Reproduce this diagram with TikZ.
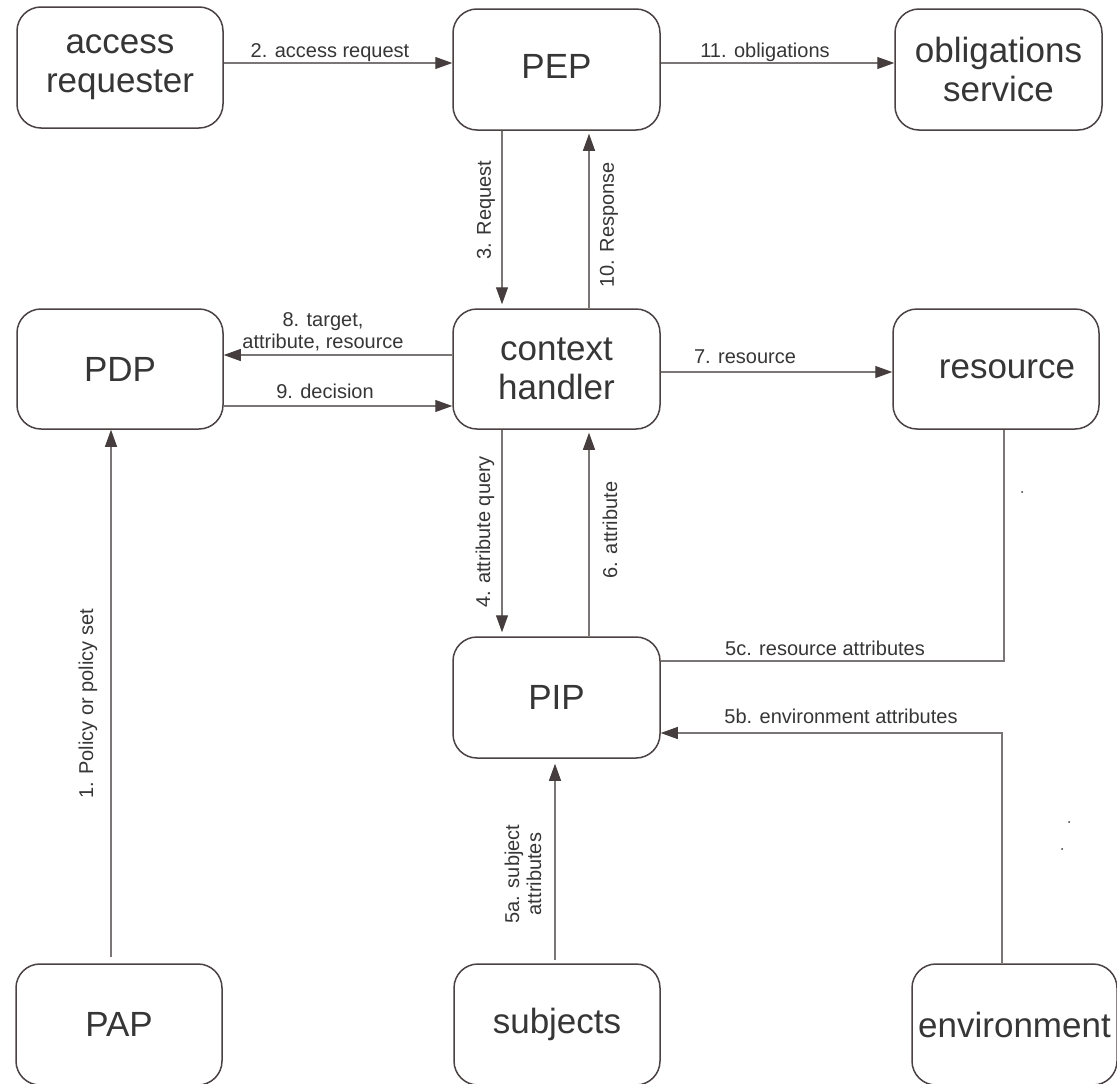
\documentclass[tikz,border=0pt]{standalone}
\usepackage{fontspec}
\setmainfont{Liberation Sans}
\usetikzlibrary{arrows.meta,calc}
\definecolor{boxline}{HTML}{4A4242}
\definecolor{conncol}{HTML}{7A7676}
\definecolor{tipc}{HTML}{463E3E}
\definecolor{txt}{HTML}{363636}
\tikzset{
 box/.style={draw=boxline, line width=1.5pt, rounded corners=24pt, minimum width=206pt, minimum height=121pt, inner sep=0pt, align=center, text=txt, font=\fontsize{35}{39}\selectfont},
 conn/.style={draw=conncol, line width=1.1pt},
 arr/.style={conn, -{Triangle[length=17pt,width=12pt,color=tipc]}},
 lbl/.style={text=txt, font=\fontsize{20}{22}\selectfont, inner sep=0pt, align=center},
}
\begin{document}
\begin{tikzpicture}[x=1pt,y=-1pt]
\clip (0,0) rectangle (1117,1084);
\fill[white] (0,0) rectangle (1117,1084);
% boxes
\node[box] (req) at (120,67.5) {access\\requester};
\node[box, minimum width=207pt] (pep) at (556.5,69.5) {\raisebox{7pt}{PEP}};
\node[box, minimum width=207pt] (obl) at (998.5,69.5) {obligations\\service};
\node[box, minimum height=120pt] (pdp) at (120,369) {PDP};
\node[box, minimum width=207pt, minimum height=120pt] (ctx) at (556.5,369) {context\\handler};
\node[box, minimum height=120pt] (res) at (996,369) {\hspace*{22pt}resource};
\node[box, minimum width=207pt] (pip) at (556.5,697.5) {PIP};
\node[box] (pap) at (119,1024.5) {PAP};
\node[box] (sub) at (557,1024.5) {subjects};
\node[box, minimum width=205pt] (env) at (1014.5,1024.5) {environment};
% reference levels
\coordinate (y63) at (0,63);
\coordinate (y355) at (0,355);
\coordinate (y372) at (0,372);
\coordinate (y406) at (0,406);
\coordinate (y661) at (0,661);
\coordinate (y733) at (0,733);
\coordinate (x111) at (111,0);
\coordinate (x502) at (502,0);
\coordinate (x555) at (555,0);
\coordinate (x589) at (589,0);
\coordinate (x1002) at (1002,0);
\coordinate (x1004) at (1004,0);
\coordinate (s1) at ($(pap.north -| x111)+(0,-6)$);
\coordinate (s5a) at ($(sub.north -| x555)+(0,-3)$);
% connectors
\draw[arr] (req.east |- y63) -- (pep.west |- y63);
\draw[arr] (pep.east |- y63) -- (obl.west |- y63);
\draw[arr, shorten >=4pt] (pep.south -| x502) -- (ctx.north -| x502);
\draw[arr, shorten >=3pt] (ctx.north -| x589) -- (pep.south -| x589);
\draw[arr] (ctx.west |- y355) -- (pdp.east |- y355);
\draw[arr] (pdp.east |- y406) -- (ctx.west |- y406);
\draw[arr] (ctx.east |- y372) -- (res.west |- y372);
\draw[arr, shorten >=4pt] (ctx.south -| x502) -- (pip.north -| x502);
\draw[arr, shorten >=3pt] (pip.north -| x589) -- (ctx.south -| x589);
\draw[conn] (res.south -| x1004) -- (x1004 |- y661) -- (pip.east |- y661);
\draw[arr] (env.north -| x1002) -- (x1002 |- y733) -- (pip.east |- y733);
\draw[arr, shorten >=5pt] (s5a) -- (pip.south -| x555);
\draw[arr] (s1) -- (pdp.south -| x111);
% labels
\node[lbl, anchor=base] (l2) at (330,57) {2. access request};
\node[lbl, anchor=base] (l11) at (765,57) {11. obligations};
\node[lbl, rotate=90] (l3) at (486,210) {3. Request};
\node[lbl, rotate=90] (l10) at (609,225) {10. Response};
\node[lbl] (l8) at (323,332) {8. target,\\attribute, resource};
\node[lbl, anchor=base] (l9) at (325,398) {9. decision};
\node[lbl, anchor=base] (l7) at (745,363) {7. resource};
\node[lbl, rotate=90] (l4) at (485,532) {4. attribute query};
\node[lbl, rotate=90] (l6) at (610,530) {6. attribute};
\node[lbl, anchor=base] (l5c) at (825,655) {5c. resource attributes};
\node[lbl, anchor=base] (l5b) at (841,723) {5b. environment attributes};
\node[lbl, rotate=90] (l5a) at (523,874) {5a. subject\\attributes};
\node[lbl, rotate=90] (l1) at (88,704) {1. Policy or policy set};
% stray dots
\fill[txt] (1022,492) circle (1);
\fill[txt] (1069,822) circle (1);
\fill[txt] (1062,849) circle (1);
\end{tikzpicture}
\end{document}
